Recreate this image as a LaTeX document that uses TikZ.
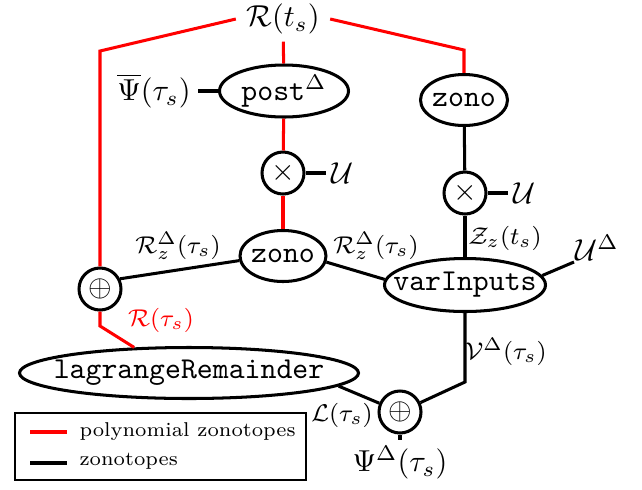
\documentclass[tikz,border=0pt]{standalone}
\usepackage{amsmath}
\usetikzlibrary{shapes.geometric}
\newcommand\ctext[1]{\makebox[0pt]{\ttfamily #1}}
\def\pxu{0.33pt}
\begin{document}
\begin{tikzpicture}[x=0.33pt,y=-0.33pt, line width=1pt,
  ell/.style={draw, ellipse, inner sep=0pt, line width=1pt},
  opc/.style={draw, circle, inner sep=0pt, minimum size=42*\pxu, line width=1pt},
  lbl/.style={inner sep=1pt},
  slbl/.style={inner sep=1pt, font=\footnotesize},
  lgd/.style={inner sep=1pt, font=\fontsize{6.6}{8}\selectfont},
  pz/.style={draw=red, line width=1pt},
  zt/.style={draw=black, line width=1pt}]
\useasboundingbox (0,0) rectangle (642,489);

% nodes
\node[inner xsep=3pt, inner ysep=0.5pt, outer ysep=2pt] (rts) at (283,19) {$\mathcal{R}(t_s)$};
\node[ell, minimum width=129*\pxu, minimum height=52*\pxu] (post) at (284,91) {\ctext{post$^\Delta$}};
\node[lbl, inner sep=2pt] (psibar) at (154,91) {$\overline{\Psi}(\tau_s)$};
\node[opc] (mx1) at (283,173) {$\times$};
\node[lbl] (u1) at (342,173) {$\mathcal{U}$};
\node[ell, minimum width=86*\pxu, minimum height=51*\pxu] (zonoM) at (283,256) {\ctext{zono}};
\node[ell, minimum width=87*\pxu, minimum height=51*\pxu] (zonoR) at (464,100) {\ctext{zono}};
\node[opc] (mx2) at (465,193) {$\times$};
\node[lbl] (u2) at (524,193) {$\mathcal{U}$};
\node[ell, minimum width=161*\pxu, minimum height=53*\pxu] (varIn) at (465,285) {\ctext{varInputs}};
\node[lbl, anchor=south west, inner sep=0pt] (ud) at (574,262) {$\mathcal{U}^\Delta$};
\node[opc] (opl1) at (100,289) {$\oplus$};
\node[ell, minimum width=339*\pxu, minimum height=51*\pxu] (lag) at (189,373) {\ctext{lagrangeRemainder}};
\node[opc] (opl2) at (400,412) {$\oplus$};
\node[lbl, inner sep=1.5pt] (psid) at (400,463) {$\Psi^\Delta(\tau_s)$};

% small labels
\node[slbl] (rz1) at (178,246) {$\mathcal{R}_z^\Delta(\tau_s)$};
\node[slbl] (rz2) at (376,246) {$\mathcal{R}_z^\Delta(\tau_s)$};
\node[slbl] (zz) at (505,238) {$\mathcal{Z}_z(t_s)$};
\node[slbl, text=red] (rtau) at (161,320) {$\mathcal{R}(\tau_s)$};
\node[slbl] (vd) at (506,352) {$\mathcal{V}^\Delta(\tau_s)$};
\node[slbl] (ltau) at (342,415) {$\mathcal{L}(\tau_s)$};

% bend points
\coordinate (cL) at (100,51);
\coordinate (cR) at (464,50);
\coordinate (cB) at (100,326);
\coordinate (cV) at (465,382);

% polynomial zonotope connectors
\draw[pz] (rts.west) -- (cL) -- (opl1);
\draw[pz] (rts.east) -- (cR) -- (zonoR);
\draw[pz] (rts) -- (post);
\draw[pz] (post) -- (mx1);
\draw[pz] (mx1) -- (zonoM);
\draw[pz] (opl1) -- (cB) -- (lag.155);

% zonotope connectors
\draw[zt] (psibar) -- (post);
\draw[zt] (mx1) -- (u1);
\draw[zt] (zonoR) -- (mx2);
\draw[zt] (mx2) -- (u2);
\draw[zt] (mx2) -- (varIn);
\draw[zt] (varIn.7) -- (ud.south west);
\draw[zt] (opl1.27) -- (zonoM.186);
\draw[zt] (zonoM.-8) -- (varIn.176);
\draw[zt] (varIn) -- (cV) -- (opl2);
\draw[zt] (lag.-5) -- (opl2.157);
\draw[zt] (opl2) -- (psid);

% legend
\draw[line width=0.8pt] (15,413) rectangle (306,480);
\coordinate (l1a) at (30,432); \coordinate (l1b) at (67,432);
\coordinate (l2a) at (30,463); \coordinate (l2b) at (67,463);
\draw[pz] (l1a) -- (l1b);
\draw[zt] (l2a) -- (l2b);
\node[lgd, anchor=west] (l1t) at (75,432) {polynomial zonotopes};
\node[lgd, anchor=west] (l2t) at (75,461) {zonotopes};
\end{tikzpicture}
\end{document}
